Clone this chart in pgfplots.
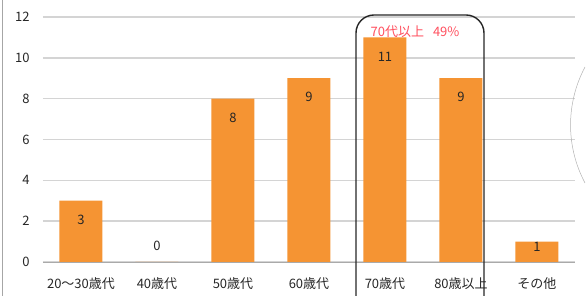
\documentclass[border=0pt]{standalone}
\usepackage{pgfplots}
\pgfplotsset{compat=1.18}
\usepackage{fontspec}
\setmainfont{Noto Sans CJK JP}
\definecolor{barorange}{HTML}{F59433}
\definecolor{gridgray}{HTML}{D4D4D4}
\definecolor{txt}{HTML}{262626}
\definecolor{redtxt}{HTML}{FF4F5E}
\begin{document}
\begin{tikzpicture}[x=1pt,y=1pt]
\begin{axis}[
  at={(0pt,0pt)}, anchor=south west,
  scale only axis, width=532pt, height=245pt,
  xmin=-0.5, xmax=6.5, ymin=0, ymax=12,
  axis line style={draw=none},
  ytick={0,2,...,12},
  xtick={0,...,6},
  xticklabels={20～30歳代,40歳代,50歳代,60歳代,70歳代,80歳以上,その他},
  major tick length=0pt,
  ymajorgrids, grid style={gridgray, line width=1.4pt},
  /pgf/number format/assume math mode=true,
  ticklabel style={font=\fontsize{13}{15}\selectfont, text=txt},
  yticklabel style={anchor=east, xshift=-10pt},
  xticklabel style={yshift=-22pt, anchor=center},
  clip=false,
]
\addplot[ybar, bar width=43pt, fill=barorange, draw=none] coordinates {
  (0,3) (1,0) (2,8) (3,9) (4,11) (5,9) (6,1)
};
\addplot[draw=none, mark=none, nodes near coords, point meta=explicit symbolic,
  every node near coord/.style={anchor=center, font=\fontsize{13}{15}\selectfont, text=txt}]
  coordinates {
  (0,2.07)[3] (1,0.78)[0] (2,7.07)[8] (3,8.07)[9] (4,10.05)[11] (5,8.07)[9] (6,0.73)[1]
};
\draw[gridgray!80!black, line width=0.8pt] (axis cs:-0.5,0) -- (axis cs:6.5,0);
\end{axis}
% decorations
\draw[black!85, line width=1.4pt, rounded corners=18pt] (313pt,-60pt) -- (313pt,247pt) -- (441pt,247pt) -- (441pt,-60pt);
\node[text=redtxt, font=\fontsize{13}{15}\selectfont] at (372pt,230pt) {70代以上\hspace{9pt}49\%};
\draw[gray!70, line width=0.8pt] (-41pt,-40pt) -- (-41pt,270pt);
\draw[gray!60, line width=0.5pt] (542pt,195pt) arc[start angle=152, end angle=208, radius=123.5pt];
\pgfresetboundingbox
\useasboundingbox (-43pt,-34pt) rectangle (544pt,262pt);
\end{tikzpicture}
\end{document}
